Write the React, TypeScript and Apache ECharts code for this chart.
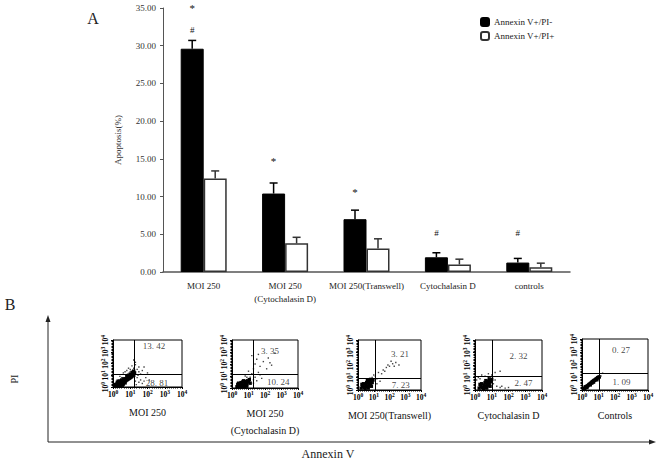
import React, { useEffect, useRef } from "react";
import * as echarts from "echarts";

// ---------- Panel A data ----------
const categories = ["MOI 250", "MOI 250\n(Cytochalasin D)", "MOI 250(Transwell)", "Cytochalasin D", "controls"];
const annexinPosPINeg = [29.6, 10.4, 7.0, 1.95, 1.25];
const annexinPosPIPos = [12.4, 3.8, 3.1, 1.0, 0.62];
const errPINeg = [1.1, 1.4, 1.2, 0.6, 0.55];
const errPIPos = [1.0, 0.8, 1.3, 0.7, 0.55];
const starLevel = [35.2, 15.0, 10.9, null, null];
const hashLevel = [32.1, null, null, 5.2, 5.2];
const yTicks = [0, 5, 10, 15, 20, 25, 30, 35];

// ---------- Panel B data (decades of fluorescence, 10^0..10^4) ----------
const plotNames = ["MOI 250", "MOI 250\n(Cytochalasin D)", "MOI 250(Transwell)", "Cytochalasin D", "Controls"];
const quadUpperRight = ["13. 42", "3. 35", "3. 21", "2. 32", "0. 27"];
const quadLowerRight = ["28. 81", "10. 24", "7. 23", "2. 47", "1. 09"];
const gateAnnexin = [1.22, 1.3, 1.1, 1.04, 1.06];
const gatePI = [1.06, 1.14, 0.98, 1.1, 1.31];
const quadUpperPos = [[2.38, 3.5], [2.3, 3.1], [2.66, 2.87], [2.6, 2.76], [2.36, 3.1]];
const quadLowerPos = [[2.55, 0.38], [2.8, 0.48], [2.72, 0.4], [2.9, 0.58], [2.4, 0.65]];

const dense1 = [[0.15,0.1],[0.2,0.25],[0.3,0.15],[0.35,0.3],[0.25,0.4],[0.4,0.2],[0.45,0.4],[0.5,0.3],[0.55,0.5],[0.6,0.4],[0.65,0.6],[0.7,0.5],[0.75,0.7],[0.8,0.6],[0.85,0.8],[0.9,0.7],[0.95,0.9],[1.0,0.8],[1.05,1.0],[1.1,0.9],[1.15,1.1],[1.2,1.0],[1.25,1.2],[0.5,0.6],[0.6,0.25],[0.3,0.5],[0.7,0.35],[0.9,1.0],[1.0,1.1],[0.8,0.9],[1.1,1.25],[1.2,1.35],[0.2,0.05],[0.1,0.2],[0.4,0.1],[0.55,0.15],[0.35,0.2],[0.45,0.25],[0.65,0.45],[0.75,0.55],[0.85,0.65],[0.95,0.75],[1.05,0.85],[0.6,0.7],[0.4,0.5]];
const sparse1 = [[0.6,1.2],[0.8,1.4],[1.0,1.5],[1.2,1.6],[1.3,1.9],[1.1,1.8],[0.9,1.6],[1.4,1.5],[1.5,1.3],[1.6,1.1],[1.4,0.8],[1.6,0.6],[1.8,0.5],[1.5,0.4],[1.9,0.8],[2.1,0.6],[1.7,0.3],[0.4,0.9],[0.7,1.3],[1.3,2.1],[1.5,1.7],[1.7,1.4],[2.0,1.2],[1.3,0.5],[1.35,0.2],[0.5,0.8],[1.0,1.3],[1.45,1.0],[1.8,1.7],[1.2,2.3]];
const dense2 = [[0.3,0.1],[0.4,0.2],[0.5,0.15],[0.6,0.3],[0.7,0.25],[0.8,0.4],[0.9,0.35],[1.0,0.5],[0.5,0.35],[0.65,0.5],[0.75,0.1],[0.85,0.2],[0.95,0.6],[1.05,0.7],[0.45,0.05],[0.55,0.45],[0.7,0.6],[0.9,0.15],[1.1,0.4],[0.35,0.3],[0.6,0.1],[0.8,0.55],[0.4,0.4]];
const sparse2 = [[1.3,1.6],[1.4,2.0],[1.5,2.4],[1.7,1.8],[1.9,2.2],[2.2,2.5],[2.6,2.9],[1.6,1.3],[1.2,1.2],[1.1,0.9],[1.4,0.9],[1.5,0.6],[1.3,0.4],[1.8,0.8],[0.8,1.0],[1.0,1.4],[2.1,1.6],[2.4,1.9],[1.2,2.7],[1.6,2.8],[1.3,0.7],[0.9,0.9],[1.7,1.1],[2.3,2.1]];
const dense3 = [[0.2,0.15],[0.3,0.3],[0.4,0.2],[0.5,0.4],[0.6,0.3],[0.7,0.5],[0.8,0.45],[0.9,0.6],[0.35,0.5],[0.55,0.6],[0.65,0.15],[0.75,0.7],[0.85,0.3],[0.95,0.8],[0.45,0.1],[0.25,0.45],[0.6,0.75],[0.8,0.85],[0.5,0.25],[0.7,0.35]];
const sparse3 = [[1.3,1.4],[1.6,1.6],[1.8,1.8],[2.0,1.9],[2.2,2.1],[2.4,2.2],[2.6,2.0],[1.5,1.3],[1.1,1.1],[1.2,0.9],[1.4,0.7],[1.0,1.2],[1.7,1.5],[2.1,2.3],[1.2,0.5],[0.9,1.0],[1.9,2.0],[2.3,1.9]];
const dense4 = [[0.25,0.15],[0.35,0.3],[0.45,0.2],[0.55,0.4],[0.65,0.3],[0.75,0.5],[0.85,0.45],[0.95,0.65],[0.4,0.5],[0.6,0.6],[0.7,0.15],[0.8,0.7],[0.9,0.3],[1.0,0.85],[0.5,0.1],[0.3,0.45],[0.65,0.75],[0.85,0.9],[0.55,0.25],[0.75,0.35]];
const sparse4 = [[0.2,1.0],[0.4,1.2],[0.6,1.1],[0.8,1.3],[1.0,1.2],[1.2,1.4],[1.5,1.5],[1.3,0.3],[1.5,0.2],[1.8,0.15],[1.1,0.5],[0.1,0.8],[0.3,0.9],[1.2,0.8],[1.6,0.3],[2.0,0.2],[0.9,1.0]];
const dense5 = [[0.1,0.05],[0.15,0.12],[0.2,0.18],[0.25,0.22],[0.3,0.3],[0.35,0.33],[0.4,0.4],[0.45,0.45],[0.5,0.5],[0.55,0.55],[0.6,0.62],[0.65,0.66],[0.7,0.72],[0.75,0.76],[0.8,0.8],[0.85,0.86],[0.9,0.9],[0.95,0.96],[1.0,1.0],[1.05,1.03],[0.3,0.2],[0.5,0.4],[0.7,0.62],[0.9,0.8],[0.2,0.25],[0.6,0.55]];
const sparse5 = [[1.25,1.32],[1.15,1.1]];
const denseSets = [dense1, dense2, dense3, dense4, dense5];
const sparseSets = [sparse1, sparse2, sparse3, sparse4, sparse5];

const FONT = "'Liberation Serif', 'DejaVu Serif', serif";
const BAR_W = 23;

// layout of dot-plot boxes
const boxes = [
  { left: 113, top: 340, width: 69, height: 47 },
  { left: 232, top: 340, width: 66, height: 48 },
  { left: 358, top: 340, width: 63, height: 50 },
  { left: 475, top: 340, width: 67, height: 50 },
  { left: 582, top: 339, width: 66, height: 51 },
];

function buildOption() {
  const grids: any[] = [{ left: 163, top: 8, width: 407, height: 264 }];
  const xAxes: any[] = [
    {
      type: "category",
      gridIndex: 0,
      data: categories,
      axisLine: { lineStyle: { color: "#555", width: 1.5 } },
      axisTick: { inside: true, length: 3, lineStyle: { color: "#555" } },
      axisLabel: { fontFamily: FONT, fontSize: 9, color: "#222", margin: 7, lineHeight: 13, interval: 0 },
    },
  ];
  const yAxes: any[] = [
    {
      type: "value",
      gridIndex: 0,
      min: yTicks[0],
      max: yTicks[yTicks.length - 1],
      interval: 5,
      name: "Apoptosis(%)",
      nameLocation: "middle",
      nameGap: 41,
      nameTextStyle: { fontFamily: FONT, fontSize: 9, color: "#333" },
      axisLine: { show: true, lineStyle: { color: "#555" } },
      axisTick: { show: true, length: 3, lineStyle: { color: "#555" } },
      splitLine: { show: false },
      axisLabel: { fontFamily: FONT, fontSize: 9, color: "#333", margin: 7, formatter: (v: number) => v.toFixed(2) },
    },
  ];
  const series: any[] = [
    {
      name: "Annexin V+/PI-",
      type: "bar",
      xAxisIndex: 0,
      yAxisIndex: 0,
      data: annexinPosPINeg,
      barWidth: BAR_W,
      barGap: "0%",
      itemStyle: { color: "#000", borderColor: "#000", borderWidth: 1 },
    },
    {
      name: "Annexin V+/PI+",
      type: "bar",
      xAxisIndex: 0,
      yAxisIndex: 0,
      data: annexinPosPIPos,
      barWidth: BAR_W,
      barGap: "0%",
      itemStyle: { color: "#fff", borderColor: "#333", borderWidth: 1.5 },
    },
  ];

  const errSeries = (vals: number[], errs: number[], side: number, color: string) => ({
    type: "custom",
    xAxisIndex: 0,
    yAxisIndex: 0,
    silent: true,
    z: 5,
    data: vals.map((v, i) => [i, v, v + errs[i]]),
    renderItem: (params: any, api: any) => {
      const lo = api.coord([api.value(0), api.value(1)]);
      const hi = api.coord([api.value(0), api.value(2)]);
      const x = lo[0] + side * (BAR_W / 2);
      return {
        type: "group",
        children: [
          { type: "line", shape: { x1: x, y1: lo[1], x2: x, y2: hi[1] }, style: { stroke: color, lineWidth: 1.5 } },
          { type: "line", shape: { x1: x - 4, y1: hi[1], x2: x + 4, y2: hi[1] }, style: { stroke: color, lineWidth: 1.5 } },
        ],
      };
    },
  });
  series.push(errSeries(annexinPosPINeg, errPINeg, -1, "#000"));
  series.push(errSeries(annexinPosPIPos, errPIPos, 1, "#333"));

  const annoSeries = (levels: (number | null)[], sym: string, size: number, dy: number) => ({
    type: "custom",
    xAxisIndex: 0,
    yAxisIndex: 0,
    silent: true,
    clip: false,
    z: 6,
    data: levels.map((v, i) => (v == null ? null : [i, v])).filter((d) => d !== null),
    renderItem: (params: any, api: any) => {
      const p = api.coord([api.value(0), api.value(1)]);
      return {
        type: "text",
        x: p[0] - BAR_W / 2,
        y: p[1] + dy,
        style: { text: sym, fontFamily: FONT, fontSize: size, fill: "#111", align: "center", verticalAlign: "middle" },
      };
    },
  });
  series.push(annoSeries(starLevel, "*", 11, 2));
  series.push(annoSeries(hashLevel, "#", 9, 0));

  // dot plots
  const tickFmt = (v: number) => `{b|10}{s|${v}}`;
  const rich = {
    b: { fontFamily: FONT, fontSize: 7.5, color: "#000", fontWeight: "bold" },
    s: { fontFamily: FONT, fontSize: 5.5, color: "#000", fontWeight: "bold", padding: [0, 0, 5, 0] },
  };
  for (let i = 0; i < 5; i++) {
    const gi = i + 1;
    grids.push({ ...boxes[i], show: true, borderColor: "#000", borderWidth: 1, backgroundColor: "transparent" });
    xAxes.push({
      type: "value",
      gridIndex: gi,
      min: 0,
      max: 4,
      interval: 1,
      name: plotNames[i],
      nameLocation: "middle",
      nameGap: 17,
      nameTextStyle: { fontFamily: FONT, fontSize: 10, color: "#111", lineHeight: 17 },
      axisLine: { show: true, lineStyle: { color: "#000" } },
      axisTick: { show: true, length: 2, lineStyle: { color: "#000" } },
      minorTick: { show: true, splitNumber: 8, length: 1.5, lineStyle: { color: "#000" } },
      splitLine: { show: false },
      axisLabel: { formatter: tickFmt, rich, margin: 2, showMinLabel: true, showMaxLabel: true },
    });
    yAxes.push({
      type: "value",
      gridIndex: gi,
      min: 0,
      max: 4,
      interval: 1,
      axisLine: { show: true, lineStyle: { color: "#000" } },
      axisTick: { show: true, length: 2, lineStyle: { color: "#000" } },
      minorTick: { show: true, splitNumber: 8, length: 1.5, lineStyle: { color: "#000" } },
      splitLine: { show: false },
      axisLabel: { formatter: tickFmt, rich, margin: 2, rotate: 90, showMinLabel: true, showMaxLabel: true },
    });
    series.push({
      type: "scatter",
      xAxisIndex: gi,
      yAxisIndex: gi,
      data: denseSets[i],
      symbol: "rect",
      symbolSize: 3.4,
      itemStyle: { color: "#000", opacity: 1 },
      silent: true,
      markLine: {
        silent: true,
        symbol: "none",
        label: { show: false },
        lineStyle: { color: "#000", width: 1, type: "solid" },
        data: [{ xAxis: gateAnnexin[i] }, { yAxis: gatePI[i] }],
      },
    });
    series.push({
      type: "scatter",
      xAxisIndex: gi,
      yAxisIndex: gi,
      data: sparseSets[i],
      symbol: "rect",
      symbolSize: 1.4,
      itemStyle: { color: "#444", opacity: 1 },
      silent: true,
    });
    series.push({
      type: "scatter",
      xAxisIndex: gi,
      yAxisIndex: gi,
      silent: true,
      symbolSize: 0,
      z: 10,
      data: [
        { value: quadUpperPos[i], name: quadUpperRight[i] },
        { value: quadLowerPos[i], name: quadLowerRight[i] },
      ],
      label: {
        show: true,
        position: "inside",
        formatter: (p: any) => p.name,
        fontFamily: FONT,
        fontSize: 9,
        color: "#111",
      },
    });
  }

  const graphic: any[] = [
    { type: "text", x: 93, y: 18, style: { text: "A", fontFamily: FONT, fontSize: 16, fill: "#222", align: "center", verticalAlign: "middle" } },
    { type: "text", x: 10, y: 304, style: { text: "B", fontFamily: FONT, fontSize: 16, fill: "#222", align: "center", verticalAlign: "middle" } },
    { type: "line", shape: { x1: 48, y1: 442, x2: 48, y2: 321 }, style: { stroke: "#222", lineWidth: 1 } },
    { type: "polygon", shape: { points: [[48, 315], [45.5, 322], [50.5, 322]] }, style: { fill: "#222" } },
    { type: "line", shape: { x1: 48, y1: 442, x2: 650, y2: 442 }, style: { stroke: "#222", lineWidth: 1 } },
    { type: "polygon", shape: { points: [[656, 442], [649, 439.5], [649, 444.5]] }, style: { fill: "#222" } },
    { type: "text", x: 14, y: 379, rotation: Math.PI / 2, style: { text: "PI", fontFamily: FONT, fontSize: 10, fill: "#222", align: "center", verticalAlign: "middle" } },
    { type: "text", x: 328, y: 454, style: { text: "Annexin V", fontFamily: FONT, fontSize: 12, fill: "#222", align: "center", verticalAlign: "middle" } },
  ];

  return {
    animation: false,
    backgroundColor: "#fff",
    grid: grids,
    xAxis: xAxes,
    yAxis: yAxes,
    legend: {
      orient: "vertical",
      left: 475,
      top: 12,
      itemWidth: 8,
      itemHeight: 8,
      itemGap: 4,
      selectedMode: false,
      data: ["Annexin V+/PI-", "Annexin V+/PI+"],
      textStyle: { fontFamily: FONT, fontSize: 9, color: "#222" },
    },
    series,
    graphic,
  };
}

export default function App() {
  const ref = useRef<HTMLDivElement>(null);
  useEffect(() => {
    document.body.style.margin = "0";
    if (!ref.current) return;
    const chart = echarts.init(ref.current, undefined, { renderer: "svg" });
    chart.setOption(buildOption() as any);
    return () => chart.dispose();
  }, []);
  return <div ref={ref} style={{ position: "absolute", left: 0, top: 0, width: 661, height: 461 }} />;
}
